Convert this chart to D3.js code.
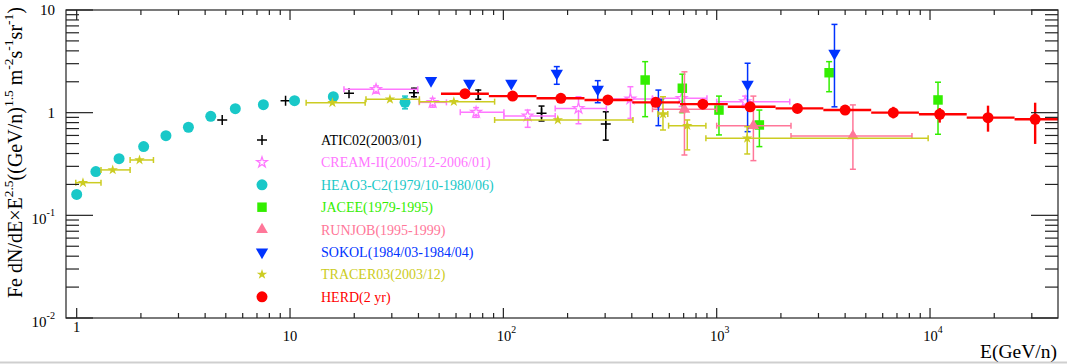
<!DOCTYPE html>
<html><head><meta charset="utf-8">
<script src="https://cdn.jsdelivr.net/npm/d3@7"></script>
<style>body{margin:0;background:#fff}svg{display:block;font-family:"Liberation Serif","Times New Roman",serif}</style>
</head><body><svg id="c" width="1067" height="364"></svg>
<script>
// ---- data (E in GeV/n, F = flux x E^2.5) ----
// [E, F, Flo, Fhi]
const aticPoints = [[4.81,0.85,null,null],[9.53,1.31,null,null],[18.9,1.545,null,null],[38.1,1.566,1.43,1.73],[76.3,1.51,1.35,1.66],[151,0.987,0.83,1.16],[302,0.776,0.54,1.02]];
// [E, F, Elo, Ehi, Flo, Fhi]
const creamPoints = [[25.3,1.69,17.9,39.7,1.55,1.82],[46.6,1.26,40.3,54.1,1.13,1.38],[74.5,1.01,62.8,100.6,0.90,1.12],[130,0.93,100.6,175,0.72,1.06],[225,1.10,175,304,0.78,1.43],[394,1.36,304,500,0.88,1.79],[685,1.38,500,900,1.15,1.6],[1360,1.28,1000,2200,1.12,1.45]];
// [E, F, Flo, Fhi]
const heaoPoints = [[1.0,0.160,null,null],[1.23,0.267,null,null],[1.58,0.356,null,null],[2.06,0.467,null,null],[2.62,0.597,null,null],[3.34,0.721,null,null],[4.25,0.922,null,null],[5.54,1.094,null,null],[7.5,1.197,null,null],[10.5,1.31,null,null],[15.96,1.43,null,null],[34.6,1.26,1.09,1.45]];
const jaceePoints = [[462,2.08,0.914,3.14],[690,1.73,1.0,2.37],[1025,1.06,0.607,1.45],[1585,0.759,0.467,1.06],[3365,2.45,1.60,3.14],[10900,1.33,0.616,1.98]];
// [E, F, Elo, Ehi, Flo, Fhi]
const runjobPoints = [[706,1.08,500,1000,0.387,2.5],[1486,0.747,1000,2230,0.341,1.45],[4350,0.593,2230,8230,0.281,1.19]];
// [E, F, Flo, Fhi]
const sokolPoints = [[45.8,2.05,null,null],[69.2,1.93,null,null],[109,1.93,null,null],[178,2.42,1.89,2.81],[277,1.69,1.25,2.05],[533,1.26,0.747,1.66],[1396,1.89,0.653,3.03],[3565,3.79,1.14,7.24]];
// [E, F, Elo, Ehi, Flo, Fhi]
const tracerPoints = [[1.07,0.208,0.99,1.30,null,null],[1.475,0.277,1.30,1.78,null,null],[1.97,0.346,1.78,2.29,null,null],[15.8,1.25,11.9,22.5,null,null],[29.4,1.35,22.7,40.4,null,null],[58.6,1.28,40.4,91,null,null],[180,0.849,91,405,null,null],[560,0.97,530,590,0.678,1.43],[728,0.747,595,890,0.434,0.849],[1390,0.563,890,9800,0.396,0.731]];
const herdPoints = [[66.1,1.53,51,85.5,1.50,1.56],[110.5,1.45,85.5,143,1.42,1.48],[186,1.38,143,240,1.35,1.41],[309,1.33,240,402,1.30,1.36],[518,1.26,402,673,1.23,1.29],[861,1.21,673,1127,1.18,1.24],[1435,1.14,1127,1888,1.11,1.17],[2390,1.10,1888,3162,1.06,1.14],[4000,1.06,3162,5300,1.01,1.11],[6730,1.0,5300,8870,0.88,1.14],[11100,0.965,8870,14860,0.80,1.11],[18700,0.894,14860,24900,0.653,1.17],[31100,0.862,24900,41700,0.496,1.25]];

const legendNames = ["ATIC02(2003/01)","CREAM-II(2005/12-2006/01)","HEAO3-C2(1979/10-1980/06)","JACEE(1979-1995)","RUNJOB(1995-1999)","SOKOL(1984/03-1984/04)","TRACER03(2003/12)","HERD(2 yr)"];
const legendColors = ["#000000","#ff77ff","#19c8c8","#33ee00","#ff7799","#0033ff","#cccc22","#ff0000"];
const legendMarkers = ["plus","openstar","circle","square","triangle","invtriangle","star","circle"];

const xTickValues = [1,10,100,1000,10000];
const xTickLabels = [["1",""],["10",""],["10","2"],["10","3"],["10","4"]];
const yTickValues = [0.01,0.1,1,10];
const yTickLabels = [["10","-2"],["10","-1"],["1",""],["10",""]];

// ---- drawing ----
const svg = d3.select('#c');
const L=66,R=1058,T=10,B=318;
const x = d3.scaleLog().domain([0.891,39800]).range([L,R]);
const y = d3.scaleLog().domain([0.01,10]).range([B,T]);

svg.append('rect').attr('width',1067).attr('height',364).attr('fill','#fff');
svg.append('line').attr('x1',0).attr('x2',1067).attr('y1',362.5).attr('y2',362.5).attr('stroke','#cfcfcf').attr('stroke-width',2);

svg.append('clipPath').attr('id','clip').append('rect').attr('x',L).attr('y',T).attr('width',R-L).attr('height',B-T);
const plot = svg.append('g').attr('clip-path','url(#clip)');

function symbolPath(type){
  if(type==='circle') return d3.symbol(d3.symbolCircle,95)();
  if(type==='square') return d3.symbol(d3.symbolSquare,90)();
  if(type==='triangle') return d3.symbol(d3.symbolTriangle,60)();
  if(type==='invtriangle') return d3.symbol(d3.symbolTriangle,66)();
  if(type==='star') return d3.symbol(d3.symbolStar,34)();
  if(type==='openstar') return d3.symbol(d3.symbolStar,34)();
  return null;
}
function drawMarker(g,type,cx,cy,color){
  if(type==='plus'){
    g.append('path').attr('d',`M${cx-5},${cy}H${cx+5}M${cx},${cy-5}V${cy+5}`).attr('stroke',color).attr('stroke-width',1.5).attr('fill','none');
    return;
  }
  const p = g.append('path').attr('d',symbolPath(type));
  let tr = `translate(${cx},${cy})`;
  if(type==='invtriangle') tr += ' rotate(180)';
  p.attr('transform',tr);
  if(type==='openstar') p.attr('fill','#fff').attr('stroke',color).attr('stroke-width',1.3);
  else p.attr('fill',color);
}
function errBars(g,color,pts,hasX,lw,cap){
  pts.forEach(d=>{
    const cx=x(d[0]), cy=y(d[1]);
    const elo = hasX? d[2]:null, ehi = hasX? d[3]:null;
    const flo = hasX? d[4]:d[2], fhi = hasX? d[5]:d[3];
    if(elo!=null){
      g.append('line').attr('x1',x(elo)).attr('x2',x(ehi)).attr('y1',cy).attr('y2',cy).attr('stroke',color).attr('stroke-width',lw);
      if(cap){[elo,ehi].forEach(e=>g.append('line').attr('x1',x(e)).attr('x2',x(e)).attr('y1',cy-cap).attr('y2',cy+cap).attr('stroke',color).attr('stroke-width',lw));}
    }
    if(flo!=null){
      g.append('line').attr('x1',cx).attr('x2',cx).attr('y1',y(flo)).attr('y2',y(fhi)).attr('stroke',color).attr('stroke-width',lw);
      if(cap){[flo,fhi].forEach(f=>g.append('line').attr('x1',cx-cap).attr('x2',cx+cap).attr('y1',y(f)).attr('y2',y(f)).attr('stroke',color).attr('stroke-width',lw));}
    }
  });
}
const series = [
  {pts:aticPoints,hasX:false,i:0},
  {pts:creamPoints,hasX:true,i:1},
  {pts:heaoPoints,hasX:false,i:2},
  {pts:jaceePoints,hasX:false,i:3},
  {pts:runjobPoints,hasX:true,i:4},
  {pts:sokolPoints,hasX:false,i:5},
  {pts:tracerPoints,hasX:true,i:6},
];
series.forEach(s=>{
  const g=plot.append('g');
  errBars(g,legendColors[s.i],s.pts,s.hasX,1.5,3);
  s.pts.forEach(d=>drawMarker(g,legendMarkers[s.i],x(d[0]),y(d[1]),legendColors[s.i]));
});
// HERD
{
  const g=plot.append('g');
  errBars(g,'#ff0000',herdPoints,true,2.4,0);
  herdPoints.forEach(d=>drawMarker(g,'circle',x(d[0]),y(d[1]),'#ff0000'));
}

// frame
svg.append('rect').attr('x',L).attr('y',T).attr('width',R-L).attr('height',B-T).attr('fill','none').attr('stroke','#222').attr('stroke-width',1.2);
const isMajor = v=>Math.abs(Math.log10(v)-Math.round(Math.log10(v)))<1e-9;
const axg = svg.append('g').attr('stroke','#222').attr('stroke-width',1.2);
x.ticks().filter(t=>t>=1).forEach(t=>{
  const len = isMajor(t)?10:5, px=x(t);
  axg.append('line').attr('x1',px).attr('x2',px).attr('y1',B).attr('y2',B-len);
  axg.append('line').attr('x1',px).attr('x2',px).attr('y1',T).attr('y2',T+len);
});
y.ticks().forEach(t=>{
  const len = isMajor(t)?27:13, py=y(t);
  axg.append('line').attr('x1',L).attr('x2',L+len).attr('y1',py).attr('y2',py);
  axg.append('line').attr('x1',R).attr('x2',R-len).attr('y1',py).attr('y2',py);
});
function powText(g,base,exp,attrs,fs){
  const t=g.append('text').attr('font-size',fs).attr('fill','#000');
  Object.entries(attrs).forEach(([k,v])=>t.attr(k,v));
  t.append('tspan').text(base);
  if(exp) t.append('tspan').attr('font-size',fs*0.68).attr('dy',-fs*0.55).text(exp);
  return t;
}
xTickValues.forEach((v,i)=>{
  const [b,e]=xTickLabels[i];
  const base = (b==="1")?332:341;
  const t=powText(svg,b,e,{x:x(v),y:base,'text-anchor':'middle'},14.5);
  if(e){ t.attr('x',x(v)+3); }
});
yTickValues.forEach((v,i)=>{
  const [b,e]=yTickLabels[i];
  const base = e? y(v)+9 : y(v)+5;
  powText(svg,b,e,{x:55,y:base,'text-anchor':'end'},15);
});
svg.append('text').attr('x',1057).attr('y',358).attr('text-anchor','end').attr('font-size',19.5).text('E(GeV/n)');

// y title
{
  const t=svg.append('text').attr('transform','translate(22,7) rotate(-90)').attr('text-anchor','end').attr('font-size',20);
  const parts=[["Fe dN/dE\u00d7E",0],["2.5",1],["((GeV/n)",0],["1.5",1],[" m",0],["-2",1],["s",0],["-1",1],["sr",0],["-1",1],[")",0]];
  let up=false;
  parts.forEach(([s,sup])=>{
    const sp=t.append('tspan').text(s);
    if(sup){sp.attr('font-size',13.5).attr('dy',up?0:-9); up=true;}
    else {sp.attr('dy',up?9:0); up=false;}
  });
}

// legend
legendNames.forEach((n,i)=>{
  const ly = 140 + i*22.4;
  drawMarker(svg,legendMarkers[i],262,ly,legendColors[i]);
  svg.append('text').attr('x',321).attr('y',ly+5).attr('font-size',14).attr('fill',legendColors[i]).text(n);
});
</script></body></html>
